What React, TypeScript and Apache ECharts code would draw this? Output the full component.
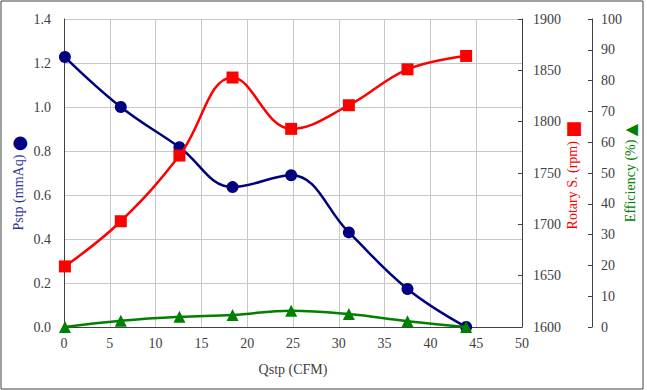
import React, { useEffect, useRef } from "react";
import * as echarts from "echarts";

const flowCFM = [0.1, 6.2, 12.6, 18.4, 24.8, 31.1, 37.5, 43.9];
const pressureMmAq = [1.227, 1.0, 0.817, 0.636, 0.69, 0.43, 0.173, 0.0];
const rotarySpeedRpm = [1659, 1703, 1767, 1843, 1793, 1816, 1851, 1864];
const efficiencyPct = [0, 2.0, 3.3, 3.9, 5.3, 4.2, 1.9, 0];

const xTicks = { min: 0, max: 50, interval: 5 };
const pTicks = { min: 0, max: 1.4, interval: 0.2 };
const rpmTicks = { min: 1600, max: 1900, interval: 50 };
const effTicks = { min: 0, max: 100, interval: 10 };

const FONT = "Liberation Serif";
const GRAY = "#404040";

export default function App() {
  const ref = useRef<HTMLDivElement>(null);
  useEffect(() => {
    if (!ref.current) return;
    const chart = echarts.init(ref.current, undefined, { renderer: "svg" });
    const zip = (ys: number[]) => flowCFM.map((x, i) => [x, ys[i]]);
    const labelStyle = { color: GRAY, fontFamily: FONT, fontSize: 14 };
    chart.setOption({
      animation: false,
      backgroundColor: "#ffffff",
      textStyle: { fontFamily: FONT },
      grid: { left: 64, right: 125, top: 19, bottom: 63, containLabel: false },
      xAxis: {
        type: "value",
        ...xTicks,
        name: "Qstp (CFM)",
        nameLocation: "middle",
        nameGap: 35,
        nameTextStyle: { color: GRAY, fontFamily: FONT, fontSize: 14 },
        axisLine: { show: true, lineStyle: { color: GRAY, width: 1 } },
        axisTick: { show: false },
        axisLabel: { ...labelStyle, margin: 9, formatter: (v: number) => String(v) },
        splitLine: { show: true, lineStyle: { color: "#c8c8c8", width: 1 } },
      },
      yAxis: [
        {
          type: "value",
          position: "left",
          ...pTicks,
          axisLine: { show: true, lineStyle: { color: GRAY, width: 1 } },
          axisTick: { show: false },
          axisLabel: { ...labelStyle, margin: 13, formatter: (v: number) => v.toFixed(1) },
          splitLine: { show: true, lineStyle: { color: "#c8c8c8", width: 1 } },
        },
        {
          type: "value",
          position: "right",
          ...rpmTicks,
          axisLine: { show: true, lineStyle: { color: GRAY, width: 1 } },
          axisTick: { show: true, inside: true, length: 4, lineStyle: { color: GRAY } },
          axisLabel: { ...labelStyle, margin: 11, formatter: (v: number) => String(v) },
          splitLine: { show: false },
        },
        {
          type: "value",
          position: "right",
          offset: 70,
          ...effTicks,
          axisLine: { show: true, lineStyle: { color: GRAY, width: 1 } },
          axisTick: { show: true, inside: true, length: 4, lineStyle: { color: GRAY } },
          axisLabel: { ...labelStyle, margin: 9, formatter: (v: number) => String(v) },
          splitLine: { show: false },
        },
      ],
      series: [
        {
          type: "line",
          name: "Pstp",
          yAxisIndex: 0,
          data: zip(pressureMmAq),
          smooth: 0.4,
          symbol: "circle",
          symbolSize: 12,
          lineStyle: { color: "#000080", width: 2.5 },
          itemStyle: { color: "#000080" },
          z: 2,
        },
        {
          type: "line",
          name: "Rotary S.",
          yAxisIndex: 1,
          data: zip(rotarySpeedRpm),
          smooth: 0.4,
          symbol: "rect",
          symbolSize: 12,
          lineStyle: { color: "#ff0000", width: 2.5 },
          itemStyle: { color: "#ff0000" },
          z: 3,
        },
        {
          type: "line",
          name: "Efficiency",
          yAxisIndex: 2,
          data: zip(efficiencyPct),
          smooth: 0.4,
          symbol: "triangle",
          symbolSize: 12,
          lineStyle: { color: "#008000", width: 2.5 },
          itemStyle: { color: "#008000" },
          z: 4,
        },
      ],
      graphic: [
        {
          type: "rect",
          shape: { x: 1, y: 1, width: 642, height: 388 },
          style: { fill: "none", stroke: GRAY, lineWidth: 1 },
          silent: true,
        },
        {
          type: "text",
          x: 18,
          y: 183,
          rotation: Math.PI / 2,
          style: {
            text: "Pstp (mmAq) {s|●}",
            align: "center",
            verticalAlign: "middle",
            fill: "#333399",
            fontFamily: FONT,
            fontSize: 14,
            rich: { s: { fill: "#000080", fontSize: 18, fontFamily: "DejaVu Sans" } },
          },
        },
        {
          type: "text",
          x: 572,
          y: 175,
          rotation: Math.PI / 2,
          style: {
            text: "Rotary S. (rpm) {s|■}",
            align: "center",
            verticalAlign: "middle",
            fill: "#ff0000",
            fontFamily: FONT,
            fontSize: 14,
            rich: { s: { fill: "#ff0000", fontSize: 18, fontFamily: "DejaVu Sans" } },
          },
        },
        {
          type: "text",
          x: 630,
          y: 173,
          rotation: Math.PI / 2,
          style: {
            text: "Efficiency (%) {s|▲}",
            align: "center",
            verticalAlign: "middle",
            fill: "#008000",
            fontFamily: FONT,
            fontSize: 14,
            rich: { s: { fill: "#008000", fontSize: 16, fontFamily: "DejaVu Sans" } },
          },
        },
      ],
    });
    return () => chart.dispose();
  }, []);
  return (
    <div
      ref={ref}
      style={{ position: "fixed", left: 0, top: 0, width: 647, height: 390, background: "#fff" }}
    />
  );
}
